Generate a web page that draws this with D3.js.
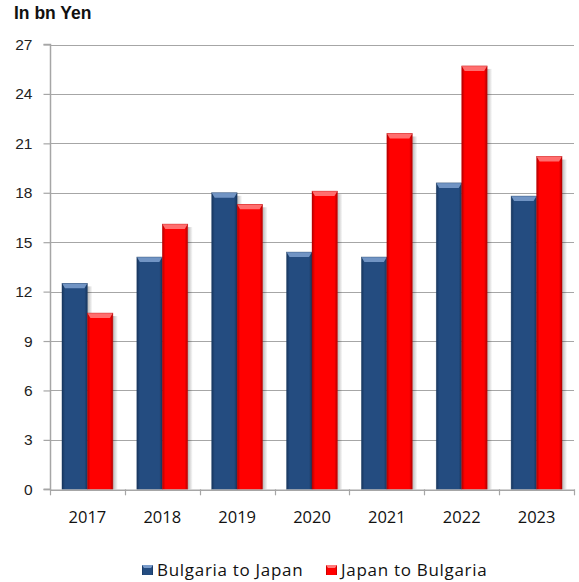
<!DOCTYPE html>
<html>
<head>
<meta charset="utf-8">
<script src="https://cdn.jsdelivr.net/npm/d3@7"></script>
<style>
body { margin: 0; background: #fff; }
svg { display: block; }
</style>
</head>
<body>
<script>
const years = ["2017", "2018", "2019", "2020", "2021", "2022", "2023"];
const bulgariaToJapan = [12.5, 14.1, 18.0, 14.4, 14.1, 18.6, 17.8];
const japanToBulgaria = [10.7, 16.1, 17.3, 18.1, 21.6, 25.7, 20.2];
const seriesNames = ["Bulgaria to Japan", "Japan to Bulgaria"];
const yTicks = [0, 3, 6, 9, 12, 15, 18, 21, 24, 27];

const W = 579, H = 582;
const margin = { left: 50, right: 5, top: 44.5, bottom: 92.7 };
const svg = d3.select("body").append("svg").attr("width", W).attr("height", H);
const defs = svg.append("defs");

function mkGrad(id, edge, mid) {
  const g = defs.append("linearGradient").attr("id", id).attr("x1", 0).attr("x2", 1).attr("y1", 0).attr("y2", 0);
  g.append("stop").attr("offset", "0%").attr("stop-color", edge);
  g.append("stop").attr("offset", "12%").attr("stop-color", mid);
  g.append("stop").attr("offset", "88%").attr("stop-color", mid);
  g.append("stop").attr("offset", "100%").attr("stop-color", edge);
}
mkGrad("gBlue", "#17355c", "#244c80");
mkGrad("gRed", "#b00000", "#ff0000");
const sh = defs.append("linearGradient").attr("id", "gShadow").attr("x1", 0).attr("x2", 1);
sh.append("stop").attr("offset", "0%").attr("stop-color", "#000").attr("stop-opacity", 0.28);
sh.append("stop").attr("offset", "100%").attr("stop-color", "#000").attr("stop-opacity", 0);

const x = d3.scaleBand().domain(years).range([margin.left, W - margin.right]).paddingInner(0).paddingOuter(0);
const x1 = d3.scaleBand().domain(seriesNames).range([0, x.bandwidth()]).paddingInner(0).paddingOuter(0.47);
const y = d3.scaleLinear().domain([0, 27]).range([H - margin.bottom, margin.top]);

// grid
svg.append("g").selectAll("line").data(yTicks.filter(d => d > 0)).join("line")
  .attr("x1", margin.left).attr("x2", W - margin.right)
  .attr("y1", d => Math.round(y(d)) + 0.5).attr("y2", d => Math.round(y(d)) + 0.5)
  .attr("stroke", "#a6a6a6").attr("stroke-width", 1.2);

// bars
const data = [];
years.forEach((yr, i) => {
  data.push({ yr, s: seriesNames[0], v: bulgariaToJapan[i], fill: "url(#gBlue)", hi: "#7a9ccb", dark: "#1a3a63" });
  data.push({ yr, s: seriesNames[1], v: japanToBulgaria[i], fill: "url(#gRed)", hi: "#ff7a7a", dark: "#c00000" });
});
const bars = svg.append("g");
data.forEach(d => {
  const bx = x(d.yr) + x1(d.s);
  const bw = x1.bandwidth();
  const by = y(d.v), bh = y(0) - y(d.v);
  bars.append("rect").attr("x", bx + bw).attr("y", by + 3).attr("width", 5).attr("height", bh - 3).attr("fill", "url(#gShadow)");
  bars.append("rect").attr("x", bx).attr("y", by).attr("width", bw).attr("height", bh).attr("fill", d.fill);
  const bev = 5;
  bars.append("path")
    .attr("d", `M${bx},${by} L${bx + bw},${by} L${bx + bw - 3},${by + bev} L${bx + 3},${by + bev} Z`)
    .attr("fill", d.hi).attr("opacity", 0.9);
  bars.append("rect").attr("x", bx).attr("y", by).attr("width", bw).attr("height", bh)
    .attr("fill", "none").attr("stroke", d.dark).attr("stroke-width", 0.6).attr("opacity", 0.6);
});

// y axis
const yAxis = d3.axisLeft(y).tickValues(yTicks).tickSize(7).tickPadding(11);
const gy = svg.append("g").attr("transform", `translate(${margin.left + 0.5},0)`).call(yAxis);
gy.select(".domain").attr("stroke", "#a6a6a6").attr("stroke-width", 1.5).attr("d", `M-7,${y(27)}H0V${y(0)}H-7`);
gy.selectAll(".tick line").attr("stroke", "#a6a6a6").attr("stroke-width", 1.2);
gy.selectAll(".tick text").attr("font-family", "Liberation Sans, Arial, sans-serif").attr("font-size", 15.5).attr("fill", "#222");

// x axis
const xAxis = d3.axisBottom(x).tickSize(0).tickPadding(21);
const gx = svg.append("g").attr("transform", `translate(0,${y(0) + 0.5})`).call(xAxis);
gx.select(".domain").attr("stroke", "#a6a6a6").attr("stroke-width", 1.5);
gx.selectAll(".tick text").attr("font-family", "Open Sans, sans-serif").attr("font-size", 16.5).attr("fill", "#111");
svg.append("g").selectAll("line").data(years.concat(["end"])).join("line")
  .attr("x1", (d, i) => Math.round(margin.left + i * x.bandwidth()) + 0.5)
  .attr("x2", (d, i) => Math.round(margin.left + i * x.bandwidth()) + 0.5)
  .attr("y1", y(0)).attr("y2", y(0) + 6)
  .attr("stroke", "#a6a6a6").attr("stroke-width", 1.2);

// title
svg.append("text").attr("x", 14).attr("y", 19).text("In bn Yen")
  .attr("font-family", "Liberation Sans, Arial, sans-serif").attr("font-weight", "bold").attr("font-size", 17.5).attr("fill", "#111");

// legend
const legend = svg.append("g");
const legItems = [
  { name: seriesNames[0], fill: "url(#gBlue)", hi: "#7a9ccb", x: 142 },
  { name: seriesNames[1], fill: "url(#gRed)", hi: "#ff7a7a", x: 326 }
];
legItems.forEach(it => {
  legend.append("rect").attr("x", it.x).attr("y", 565).attr("width", 11).attr("height", 10).attr("fill", it.fill);
  legend.append("path").attr("d", `M${it.x},565 L${it.x + 11},565 L${it.x + 9},568 L${it.x + 2},568 Z`).attr("fill", it.hi);
  legend.append("text").attr("x", it.x + 15).attr("y", 576).text(it.name)
    .attr("font-family", "Open Sans, sans-serif").attr("font-size", 17).attr("letter-spacing", 0.7).attr("fill", "#111");
});
</script>
</body>
</html>
